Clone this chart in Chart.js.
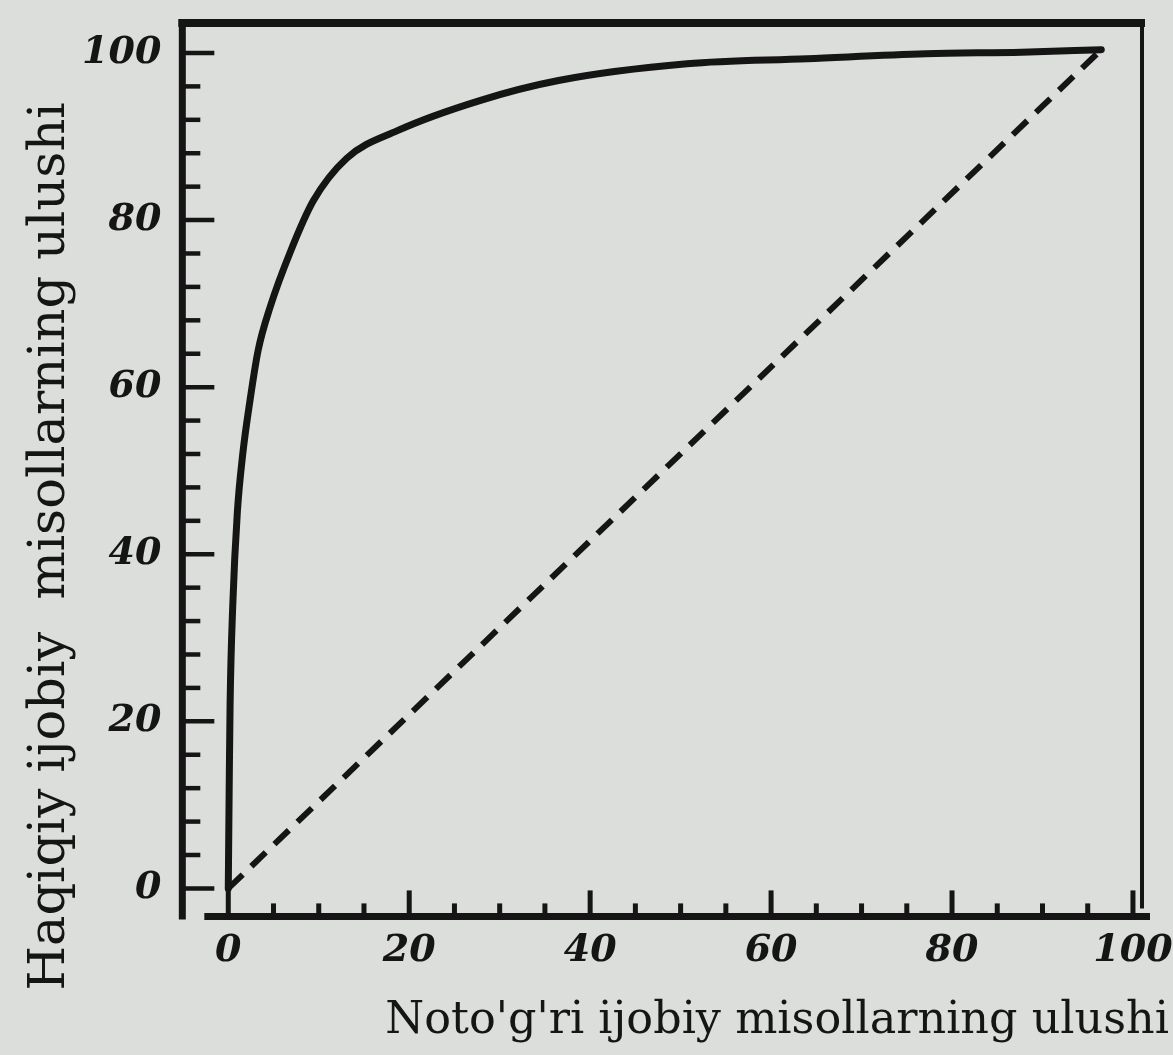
<!DOCTYPE html>
<html>
<head>
<meta charset="utf-8">
<title>ROC egri chizig'i</title>
<script src="https://cdn.jsdelivr.net/npm/chart.js@4.4.1/dist/chart.umd.min.js"></script>
<style>
  html, body { margin: 0; padding: 0; background: #dcdedb; }
  #roc-chart { display: block; }
</style>
</head>
<body>
<canvas id="roc-chart" width="1173" height="1055"></canvas>
<script>
// ROC curve, values (percent)
const rocFpr = [0, 0.1, 0.2, 0.5, 1.0, 1.6, 2.4, 3.3, 4.6, 6.9, 9.4, 13.1, 18.7, 27.8, 36.5, 50.7, 64, 77.1, 87.7, 96.5];
const rocTpr = [0, 12, 22, 34, 45, 52, 58.4, 64.4, 69.5, 76.3, 82.3, 87.4, 90.7, 94.3, 96.7, 98.7, 99.3, 99.9, 100.1, 100.4];

// random guess diagonal
const chanceFpr = [0, 96.5];
const chanceTpr = [0, 100.4];

const xTickValues = [0, 20, 40, 60, 80, 100];
const yTickValues = [0, 20, 40, 60, 80, 100];

const xTitle = "Noto'g'ri ijobiy misollarning ulushi";
const yTitle = 'Haqiqiy ijobiy  misollarning ulushi';

const ink = '#151515';
const tickFont = { family: '"DejaVu Serif"', size: 38, style: 'italic', weight: 'bold' };

function toPoints(xs, ys) {
  return xs.map((x, i) => ({ x: x, y: ys[i] }));
}

function strokeLine(ctx, x1, y1, x2, y2, width) {
  ctx.lineWidth = width;
  ctx.beginPath();
  ctx.moveTo(x1, y1);
  ctx.lineTo(x2, y2);
  ctx.stroke();
}

// box around the plot + inward tick marks (major and minor)
const frameAndTicks = {
  id: 'frameAndTicks',
  afterDatasetsDraw(chart) {
    const { ctx, chartArea: a, scales } = chart;
    ctx.save();
    ctx.strokeStyle = ink;
    ctx.lineCap = 'butt';
    strokeLine(ctx, a.left - 4, a.top, a.right + 3, a.top, 8);
    strokeLine(ctx, a.left, a.top - 4, a.left, a.bottom + 3, 7);
    strokeLine(ctx, a.left + 22, a.bottom, a.right + 8, a.bottom, 7);
    strokeLine(ctx, a.right, a.top, a.right, a.bottom - 8, 4);

    for (let v = 0; v <= 100; v += 4) {
      const y = scales.y.getPixelForValue(v);
      strokeLine(ctx, a.left, y, a.left + (v % 20 === 0 ? 32 : 18), y, 4.5);
    }
    for (let v = 0; v <= 100; v += 5) {
      const x = scales.x.getPixelForValue(v);
      strokeLine(ctx, x, a.bottom, x, a.bottom - (v % 20 === 0 ? 26 : 13), 5);
    }
    ctx.restore();
  }
};

// axis titles sit off-centre in the original, so they are drawn here
const axisTitles = {
  id: 'axisTitles',
  afterDraw(chart) {
    const { ctx, chartArea: a } = chart;
    ctx.save();
    ctx.fillStyle = ink;
    ctx.textAlign = 'left';
    ctx.textBaseline = 'alphabetic';
    ctx.font = '44.5px "DejaVu Serif"';
    ctx.fillText(xTitle, a.left + 203, a.bottom + 117);

    ctx.translate(a.left - 118, a.bottom + 74);
    ctx.rotate(-Math.PI / 2);
    ctx.font = '51px "DejaVu Serif"';
    ctx.fillText(yTitle, 0, 0);
    ctx.restore();
  }
};

const rocChart = new Chart(document.getElementById('roc-chart'), {
  type: 'scatter',
  data: {
    datasets: [
      {
        label: 'ROC',
        data: toPoints(rocFpr, rocTpr),
        showLine: true,
        borderColor: ink,
        borderWidth: 7,
        borderCapStyle: 'round',
        cubicInterpolationMode: 'monotone',
        pointRadius: 0,
      },
      {
        label: 'Tasodifiy',
        data: toPoints(chanceFpr, chanceTpr),
        showLine: true,
        borderColor: ink,
        borderWidth: 6,
        borderDash: [20, 12],
        pointRadius: 0,
      },
    ],
  },
  options: {
    responsive: false,
    animation: false,
    devicePixelRatio: 1,
    layout: { padding: { left: 61, top: 22, right: 31, bottom: 68.6 } },
    plugins: {
      legend: { display: false },
      tooltip: { enabled: false },
    },
    scales: {
      x: {
        type: 'linear',
        min: -5.08,
        max: 101,
        grid: { display: false, drawTicks: false },
        border: { display: false },
        afterBuildTicks: (scale) => { scale.ticks = xTickValues.map((v) => ({ value: v })); },
        // tall line height instead of padding keeps the labels low without widening the right margin
        ticks: { color: ink, font: Object.assign({}, tickFont, { lineHeight: 1.842 }), padding: 0, maxRotation: 0, autoSkip: false },
      },
      y: {
        type: 'linear',
        min: -3.35,
        max: 103.6,
        grid: { display: false, drawTicks: false },
        border: { display: false },
        afterBuildTicks: (scale) => { scale.ticks = yTickValues.map((v) => ({ value: v })); },
        ticks: { color: ink, font: Object.assign({}, tickFont, { lineHeight: 0.1 }), padding: 21, autoSkip: false },
      },
    },
  },
  plugins: [frameAndTicks, axisTitles],
});
</script>
</body>
</html>
